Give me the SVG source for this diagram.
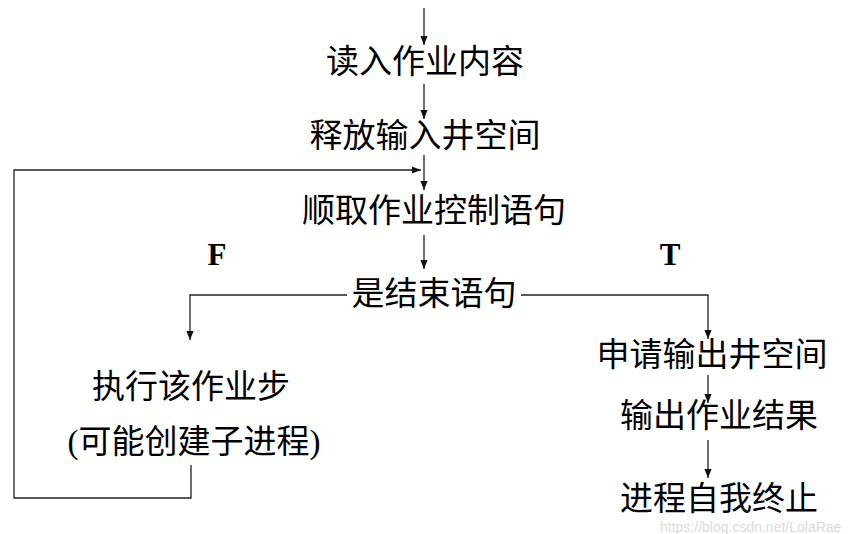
<svg xmlns="http://www.w3.org/2000/svg" width="866" height="534" viewBox="0 0 866 534">
<style>
.t{font-family:"Liberation Serif","Noto Sans CJK SC",serif;font-size:33px;fill:#000;text-anchor:middle}
.b{font-family:"Liberation Serif",serif;font-size:31px;font-weight:bold;fill:#000;text-anchor:middle}
.c{fill:none;stroke:#222;stroke-width:1.3}
.w{font-family:"Liberation Sans",sans-serif;font-size:14px;fill:#ccc;opacity:0.7}
</style>
<defs>
<marker id="a" viewBox="0 0 10 10" refX="10" refY="5" markerWidth="9" markerHeight="9" markerUnits="userSpaceOnUse" orient="auto">
<path d="M0,1 L10,5 L0,9 Z" fill="#111"/>
</marker>
</defs>
<rect width="866" height="534" fill="#fff"/>
<g id="connectors">
<line class="c" x1="424" y1="8" x2="424" y2="45" marker-end="url(#a)"/>
<line class="c" x1="424" y1="84" x2="424" y2="119" marker-end="url(#a)"/>
<line class="c" x1="424" y1="155" x2="424" y2="190" marker-end="url(#a)"/>
<polyline class="c" points="191,465 191,498 14,498 14,170 421,170" marker-end="url(#a)"/>
<line class="c" x1="424" y1="235" x2="424" y2="269" marker-end="url(#a)"/>
<polyline class="c" points="347,295 190,295 190,340" marker-end="url(#a)"/>
<polyline class="c" points="521,295 708,295 708,339" marker-end="url(#a)"/>
<line class="c" x1="708" y1="375" x2="708" y2="403" marker-end="url(#a)"/>
<line class="c" x1="708" y1="440" x2="708" y2="478" marker-end="url(#a)"/>
</g>
<g id="n1"><text class="t" x="425" y="73">读入作业内容</text></g>
<g id="n2"><text class="t" x="425" y="147">释放输入井空间</text></g>
<g id="n3"><text class="t" x="434" y="222">顺取作业控制语句</text></g>
<g id="lf"><text class="b" x="217" y="265">F</text></g>
<g id="lt"><text class="b" x="670" y="265">T</text></g>
<g id="n4"><text class="t" x="434" y="305">是结束语句</text></g>
<g id="n5"><text class="t" x="191" y="398">执行该作业步</text><text class="t" x="194" y="453">(可能创建子进程)</text></g>
<g id="n6"><text class="t" x="712" y="366">申请输出井空间</text></g>
<g id="n7"><text class="t" x="719" y="427">输出作业结果</text></g>
<g id="n8"><text class="t" x="719" y="510">进程自我终止</text></g>
<text class="w" x="660" y="532">https://blog.csdn.net/LolaRae</text>
</svg>
